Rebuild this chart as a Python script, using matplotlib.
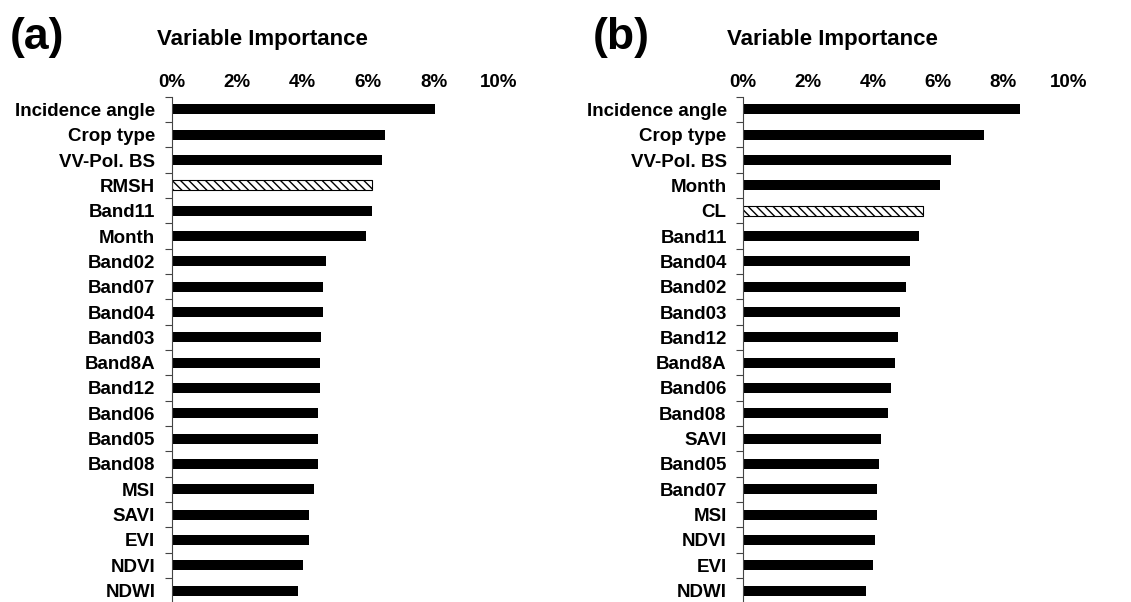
import matplotlib
matplotlib.use("Agg")
import matplotlib.pyplot as plt
import numpy as np
from matplotlib.ticker import FuncFormatter

plt.rcParams['font.family'] = ['Liberation Sans', 'DejaVu Sans']
plt.rcParams['font.weight'] = 'bold'
plt.rcParams['hatch.linewidth'] = 1.0

# === Datos (a) ===
names_a = ["Incidence angle", "Crop type", "VV-Pol. BS", "RMSH", "Band11", "Month",
           "Band02", "Band07", "Band04", "Band03", "Band8A", "Band12", "Band06",
           "Band05", "Band08", "MSI", "SAVI", "EVI", "NDVI", "NDWI"]
vals_a = [8.04, 6.51, 6.43, 6.13, 6.13, 5.93, 4.71, 4.62, 4.62, 4.56, 4.52, 4.52,
          4.48, 4.48, 4.46, 4.33, 4.18, 4.18, 4.01, 3.86]
special_a = "RMSH"

# === Datos (b) ===
names_b = ["Incidence angle", "Crop type", "VV-Pol. BS", "Month", "CL", "Band11",
           "Band04", "Band02", "Band03", "Band12", "Band8A", "Band06", "Band08",
           "SAVI", "Band05", "Band07", "MSI", "NDVI", "EVI", "NDWI"]
vals_b = [8.50, 7.42, 6.39, 6.06, 5.54, 5.42, 5.13, 5.01, 4.82, 4.77, 4.68, 4.53,
          4.45, 4.24, 4.18, 4.10, 4.10, 4.04, 3.98, 3.77]
special_b = "CL"

xticks = [0, 2, 4, 6, 8, 10]

fig = plt.figure(figsize=(11.31, 6.02), dpi=100)


def panel(rect, names, vals, special, tag, tag_x, title_x):
    ax = fig.add_axes(rect)
    n = len(names)
    y = np.arange(n)
    for i, (nm, v) in enumerate(zip(names, vals)):
        if nm == special:
            ax.barh(i, v, height=0.4, color='white', edgecolor='black',
                    hatch='\\\\\\\\', linewidth=0.8)
        else:
            ax.barh(i, v, height=0.4, color='black')
    ax.set_ylim(n - 0.5, -0.5)
    ax.set_xlim(0, 10)
    ax.set_yticks(y)
    ax.set_yticklabels(names, fontsize=13.5, fontweight='bold')
    ax.set_yticks(np.arange(n + 1) - 0.5, minor=True)
    ax.tick_params(axis='y', which='major', length=0, pad=12)
    ax.tick_params(axis='y', which='minor', length=5, width=0.8, color='#444444')
    ax.xaxis.tick_top()
    ax.set_xticks(xticks)
    ax.xaxis.set_major_formatter(FuncFormatter(lambda v, p: f"{v:.0f}%"))
    ax.tick_params(axis='x', length=0, pad=4, labelsize=13.5)
    for lbl in ax.get_xticklabels():
        lbl.set_fontweight('bold')
    for s in ['top', 'right', 'bottom']:
        ax.spines[s].set_visible(False)
    ax.spines['left'].set_color('#444444')
    ax.spines['left'].set_linewidth(0.8)
    fig.text(title_x, 1 - 39 / 602, "Variable Importance", fontsize=16,
             fontweight='bold', ha='center', va='center')
    fig.text(tag_x, 1 - 38 / 602, tag, fontsize=32, fontweight='bold',
             ha='center', va='center')
    return ax


bottom = 1 - 96.7 / 602 - 20 * 25.33 / 602
height = 20 * 25.33 / 602
panel([172 / 1131, bottom, 327 / 1131, height], names_a, vals_a, special_a,
      "(a)", 37 / 1131, 262 / 1131)
panel([743.3 / 1131, bottom, 325 / 1131, height], names_b, vals_b, special_b,
      "(b)", 621 / 1131, 832 / 1131)

fig.savefig("out.png", dpi=100)
